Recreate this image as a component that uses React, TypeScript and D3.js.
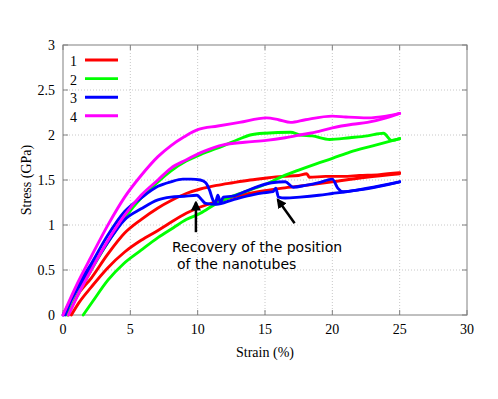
import * as d3 from "d3";

const W = 498;
const H = 399;
const marginLeft = 63;
const marginRight = 31;
const marginTop = 45;
const marginBottom = 84;

// strain (%) / stress (GPa), two tests per sample
const red1: [number, number][] = [
  [0.4, 0], [1, 0.2], [2.1, 0.41], [3.3, 0.67], [4.58, 0.91], [5.8, 1.06], [7.05, 1.19], [8, 1.27],
  [9.15, 1.35], [10.2, 1.4], [11.4, 1.44], [12.6, 1.47], [13.9, 1.5], [15, 1.52], [16.3, 1.54],
  [17.5, 1.55], [18.1, 1.57], [18.3, 1.53], [19.5, 1.54], [20.8, 1.54], [22, 1.55], [23.5, 1.56], [25, 1.58],
];
const red2: [number, number][] = [
  [0.62, 0], [1.2, 0.14], [2.1, 0.31], [3.3, 0.52], [4.58, 0.7], [5.8, 0.83], [7.05, 0.94], [7.7, 1.0],
  [9.15, 1.13], [10.2, 1.2], [11.4, 1.26], [12.6, 1.31], [14.5, 1.37], [16.3, 1.41], [18, 1.44],
  [20, 1.48], [22.5, 1.53], [25, 1.57],
];
const green1: [number, number][] = [
  [0.3, 0], [1, 0.2], [2.1, 0.5], [3.3, 0.8], [4.58, 1.08], [5.8, 1.3], [7.05, 1.48], [8, 1.6],
  [9.15, 1.71], [10.5, 1.8], [11.9, 1.88], [13, 1.95], [13.9, 2.0], [15, 2.02], [16.9, 2.03],
  [17.6, 2.0], [18.5, 1.99], [19.8, 1.95], [21.3, 1.97], [22.6, 1.99], [23.8, 2.02], [24.4, 1.94], [25, 1.96],
];
const green2: [number, number][] = [
  [1.5, 0], [2.2, 0.15], [3.35, 0.39], [4.5, 0.57], [5.8, 0.72], [7.05, 0.86], [8.2, 0.97],
  [9.15, 1.06], [10.2, 1.13], [11.4, 1.24], [12.6, 1.32], [13.9, 1.39], [15, 1.45], [16.3, 1.54],
  [17.5, 1.61], [18.8, 1.68], [20, 1.74], [21.3, 1.81], [23, 1.88], [25, 1.96],
];
const blue1: [number, number][] = [
  [0.15, 0], [1, 0.3], [2.1, 0.57], [3.3, 0.88], [4.58, 1.15], [5.8, 1.3], [7.05, 1.43], [8, 1.48],
  [8.9, 1.51], [9.5, 1.51], [10.2, 1.5], [10.6, 1.47], [10.9, 1.38], [11.1, 1.29], [11.3, 1.24],
  [11.5, 1.33], [11.7, 1.25], [11.9, 1.31], [12.6, 1.32], [13.5, 1.37], [14.5, 1.43], [15.5, 1.47],
  [16.5, 1.48], [17.1, 1.42], [18, 1.44], [19, 1.47], [20, 1.51], [20.4, 1.41], [20.8, 1.37],
  [22, 1.39], [23.5, 1.43], [25, 1.48],
];
const blue2: [number, number][] = [
  [0, 0], [1, 0.27], [2.1, 0.52], [3.3, 0.8], [4.58, 1.06], [5.8, 1.18], [7.05, 1.28], [8, 1.31],
  [9, 1.32], [9.95, 1.33], [10.3, 1.28], [10.6, 1.24], [11.4, 1.23], [12.6, 1.28], [13.9, 1.33],
  [15, 1.36], [15.6, 1.37], [15.8, 1.41], [16, 1.31], [16.5, 1.3], [17.6, 1.31], [19, 1.33],
  [20, 1.35], [21, 1.37], [22.6, 1.41], [25, 1.48],
];
const magenta1: [number, number][] = [
  [0, 0], [1, 0.33], [2.1, 0.65], [3.3, 0.99], [4.58, 1.31], [5.8, 1.55], [7.05, 1.76], [8, 1.88],
  [9, 1.98], [10, 2.06], [11.5, 2.1], [13.1, 2.14], [15.1, 2.19], [16, 2.17], [16.9, 2.14],
  [18, 2.17], [20, 2.21], [21, 2.2], [22.6, 2.19], [24, 2.21], [25, 2.24],
];
const magenta2: [number, number][] = [
  [0.4, 0], [1.2, 0.25], [2.1, 0.5], [3.3, 0.82], [4.58, 1.11], [5.8, 1.33], [7.05, 1.5], [8, 1.63],
  [9.1, 1.72], [10.5, 1.82], [11.9, 1.89], [13.5, 1.92], [15.1, 1.94], [16.5, 1.97], [17.6, 2.0],
  [19, 2.04], [20, 2.08], [21.5, 2.12], [22.6, 2.14], [24, 2.19], [25, 2.24],
];

const seriesNames = ["1", "2", "3", "4"];
const seriesColors = ["#ff0000", "#00ff00", "#0000ff", "#ff00ff"];
const seriesCurves = [[red1, red2], [green1, green2], [blue1, blue2], [magenta1, magenta2]];

const xTicks = [0, 5, 10, 15, 20, 25, 30];
const yTicks = [0, 0.5, 1, 1.5, 2, 2.5, 3];

// arrows: [fromStrain, fromStress, toStrain, toStress]
const arrows: [number, number, number, number][] = [
  [9.87, 0.92, 9.87, 1.25],
  [17.2, 1.02, 15.95, 1.28],
];
const noteLines = ["Recovery of the position", "of the nanotubes"];

export default function App() {
  const x = d3.scaleLinear().domain([0, 30]).range([marginLeft, W - marginRight]);
  const y = d3.scaleLinear().domain([0, 3]).range([H - marginBottom, marginTop]);
  const line = d3
    .line<[number, number]>()
    .x((d) => x(d[0]))
    .y((d) => y(d[1]))
    .curve(d3.curveMonotoneX);

  const x0 = x(0), x1 = x(30), y0 = y(0), y1 = y(3);
  const serif = "'Liberation Serif', 'Times New Roman', serif";

  return (
    <svg width={W} height={H} style={{ position: "absolute", left: 0, top: 0, background: "#fff" }}>
      <defs>
        <marker id="ah" viewBox="0 0 10 10" refX="8" refY="5" markerWidth="4" markerHeight="4" orient="auto">
          <path d="M0,0 L10,5 L0,10 z" fill="#000" />
        </marker>
      </defs>
      {/* grid */}
      <g stroke="#c8c8c8" strokeWidth={1} strokeDasharray="1,2">
        {xTicks.slice(1, -1).map((t) => (
          <line key={"gx" + t} x1={x(t)} x2={x(t)} y1={y0} y2={y1} />
        ))}
        {yTicks.slice(1, -1).map((t) => (
          <line key={"gy" + t} x1={x0} x2={x1} y1={y(t)} y2={y(t)} />
        ))}
      </g>
      {/* frame and ticks */}
      <g stroke="#808080" strokeWidth={1} fill="none">
        <rect x={x0} y={y1} width={x1 - x0} height={y0 - y1} />
        {xTicks.map((t) => (
          <g key={"tx" + t}>
            <line x1={x(t)} x2={x(t)} y1={y0} y2={y0 - 5} />
            <line x1={x(t)} x2={x(t)} y1={y1} y2={y1 + 5} />
          </g>
        ))}
        {yTicks.map((t) => (
          <g key={"ty" + t}>
            <line x1={x0} x2={x0 + 5} y1={y(t)} y2={y(t)} />
            <line x1={x1} x2={x1 - 5} y1={y(t)} y2={y(t)} />
          </g>
        ))}
      </g>
      {/* tick labels */}
      <g fontFamily={serif} fontSize={14} fill="#000">
        {xTicks.map((t) => (
          <text key={"lx" + t} x={x(t)} y={y0 + 19} textAnchor="middle">
            {t}
          </text>
        ))}
        {yTicks.map((t) => (
          <text key={"ly" + t} x={x0 - 8} y={y(t) + 5} textAnchor="end">
            {t}
          </text>
        ))}
        <text x={(x0 + x1) / 2} y={357} textAnchor="middle">
          Strain (%)
        </text>
        <text transform={`translate(31,${(y0 + y1) / 2}) rotate(-90)`} textAnchor="middle">
          Stress (GPa)
        </text>
      </g>
      {/* curves */}
      <g fill="none" strokeWidth={2.9} strokeLinejoin="round" strokeLinecap="round">
        {seriesCurves.map((curves, i) =>
          curves.map((c, j) => (
            <path key={i + "-" + j} d={line(c) ?? ""} stroke={seriesColors[i]} />
          ))
        )}
      </g>
      {/* legend */}
      <g fontFamily={serif} fontSize={14}>
        {seriesNames.map((n, i) => (
          <g key={n}>
            <text x={77} y={61 + i * 18.6 + 5} textAnchor="end">
              {n}
            </text>
            <line x1={85} x2={118} y1={60 + i * 18.6} y2={60 + i * 18.6} stroke={seriesColors[i]} strokeWidth={2.9} />
          </g>
        ))}
      </g>
      {/* annotation */}
      <g stroke="#000" strokeWidth={2.5}>
        {arrows.map((a, i) => (
          <line key={i} x1={x(a[0])} y1={y(a[1])} x2={x(a[2])} y2={y(a[3])} markerEnd="url(#ah)" />
        ))}
      </g>
      <g fontFamily="'DejaVu Sans', sans-serif" fontSize={14} fill="#000">
        <text x={172} y={252}>{noteLines[0]}</text>
        <text x={177} y={269}>{noteLines[1]}</text>
      </g>
    </svg>
  );
}
